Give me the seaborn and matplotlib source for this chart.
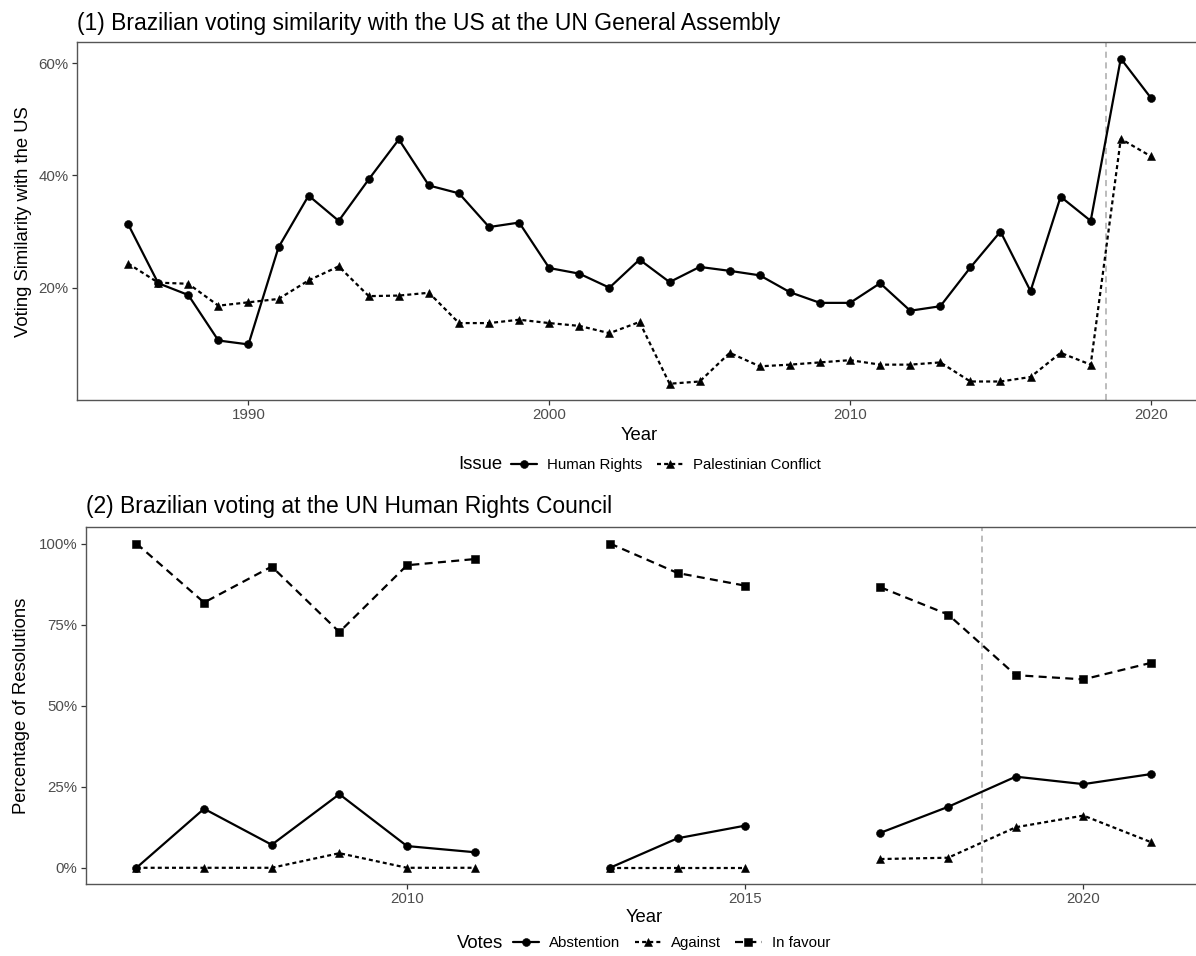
import numpy as np
import pandas as pd
import matplotlib
matplotlib.use("Agg")
import matplotlib.pyplot as plt
from matplotlib.lines import Line2D
from matplotlib.ticker import FuncFormatter
import seaborn as sns

# ---------------------------------------------------------------------------
# Data
# ---------------------------------------------------------------------------
# (1) Voting similarity with the US at the UN General Assembly (%)
ga_years = [1986, 1987, 1988, 1989, 1990, 1991, 1992, 1993, 1994, 1995,
            1996, 1997, 1998, 1999, 2000, 2001, 2002, 2003, 2004, 2005,
            2006, 2007, 2008, 2009, 2010, 2011, 2012, 2013, 2014, 2015,
            2016, 2017, 2018, 2019, 2020]
human_rights = [31.3, 20.8, 18.7, 10.6, 9.9, 27.2, 36.4, 31.9, 39.3, 46.4,
                38.2, 36.8, 30.8, 31.6, 23.5, 22.5, 20.0, 25.0, 21.0, 23.7,
                23.0, 22.2, 19.2, 17.3, 17.3, 20.8, 15.9, 16.7, 23.6, 30.0,
                19.4, 36.2, 31.9, 60.8, 53.8]
palestinian_conflict = [24.3, 20.9, 20.7, 16.8, 17.4, 18.0, 21.3, 23.8, 18.5, 18.6,
                        19.1, 13.7, 13.7, 14.3, 13.7, 13.2, 11.9, 13.9, 2.9, 3.3,
                        8.4, 6.0, 6.3, 6.7, 7.1, 6.3, 6.3, 6.7, 3.3, 3.3,
                        4.1, 8.4, 6.3, 46.5, 43.4]
issues = ["Human Rights", "Palestinian Conflict"]

# (2) Brazilian votes at the UN Human Rights Council (% of resolutions)
hrc_years = [2006, 2007, 2008, 2009, 2010, 2011, 2013, 2014, 2015,
             2017, 2018, 2019, 2020, 2021]
abstention = [0.0, 18.2, 7.1, 22.7, 6.7, 4.8, 0.0, 9.1, 13.0,
              10.8, 18.8, 28.1, 25.8, 28.9]
against = [0.0, 0.0, 0.0, 4.5, 0.0, 0.0, 0.0, 0.0, 0.0,
           2.7, 3.1, 12.5, 16.1, 7.9]
in_favour = [100.0, 81.8, 92.9, 72.7, 93.3, 95.2, 100.0, 90.9, 87.0,
             86.5, 78.1, 59.4, 58.1, 63.2]
vote_types = ["Abstention", "Against", "In favour"]

# Change of government (start of 2019)
government_change = 2018.5

ga_df = pd.DataFrame({
    "Year": ga_years * 2,
    "Similarity": human_rights + palestinian_conflict,
    "Issue": [issues[0]] * len(ga_years) + [issues[1]] * len(ga_years),
})

hrc_df = pd.DataFrame({
    "Year": hrc_years * 3,
    "Share": abstention + against + in_favour,
    "Votes": sum([[v] * len(hrc_years) for v in vote_types], []),
})
# Years without data break the lines: number the consecutive runs
hrc_df["Run"] = (hrc_df.groupby("Votes")["Year"].diff() != 1).cumsum()

# ---------------------------------------------------------------------------
# Style
# ---------------------------------------------------------------------------
sns.set_theme(style="white")
plt.rcParams["font.family"] = ["Liberation Sans", "DejaVu Sans"]

W, H, DPI = 1196, 956, 100
TICK_SIZE = 10.8
TITLE_SIZE = 16.5
AXTITLE_SIZE = 13.3
LW = 1.6
MS = 5.7
DOTTED = (1.8, 1.4)
DASHED = (3.6, 2.4)

ga_markers = {"Human Rights": "o", "Palestinian Conflict": "^"}
ga_dashes = {"Human Rights": "", "Palestinian Conflict": DOTTED}
hrc_markers = {"Abstention": "o", "Against": "^", "In favour": "s"}
hrc_dashes = {"Abstention": "", "Against": DOTTED, "In favour": DASHED}
marker_scale = {"o": 1.0, "^": 1.12, "s": 0.95}

fig = plt.figure(figsize=(W / DPI, H / DPI), dpi=DPI)
fig.patch.set_facecolor("white")


def px_box(left, top, right, bottom):
    return [left / W, 1 - bottom / H, (right - left) / W, (bottom - top) / H]


ax1 = fig.add_axes(px_box(77, 42.3, 1202, 400))
ax2 = fig.add_axes(px_box(85.7, 527.3, 1201.8, 884))


def style_axes(ax):
    for sp in ax.spines.values():
        sp.set_visible(True)
        sp.set_color("#555555")
        sp.set_linewidth(1.0)
    ax.grid(False)
    ax.set_facecolor("white")
    ax.tick_params(axis="both", which="both", direction="out", length=3.5,
                   width=0.9, color="#333333", labelcolor="#4d4d4d",
                   labelsize=TICK_SIZE, pad=2.5, bottom=True, left=True)


def expand(lo, hi, frac=0.05):
    span = hi - lo
    return lo - span * frac, hi + span * frac


def finish_lines(ax):
    for line in ax.get_lines():
        m = line.get_marker()
        if m in marker_scale:
            line.set_markersize(MS * marker_scale[m])
        line.set_dash_capstyle("butt")


pct = FuncFormatter(lambda v, _: f"{v:.0f}%")

# ---------------------------------------------------------------------------
# Panel 1
# ---------------------------------------------------------------------------
sns.lineplot(data=ga_df, x="Year", y="Similarity", style="Issue",
             style_order=issues, markers=ga_markers, dashes=ga_dashes,
             color="black", linewidth=LW, markersize=MS,
             markeredgecolor="black", markeredgewidth=0.4,
             legend=False, ax=ax1)
finish_lines(ax1)
ax1.axvline(government_change, color="#aaaaaa", linestyle=(0, (4, 3)),
            linewidth=1.1, zorder=0)
style_axes(ax1)
ax1.set_xlim(*expand(min(ga_years), max(ga_years)))
ax1.set_ylim(*expand(min(ga_df["Similarity"]), max(ga_df["Similarity"])))
ax1.set_xticks([1990, 2000, 2010, 2020])
ax1.set_yticks([20, 40, 60])
ax1.yaxis.set_major_formatter(pct)
ax1.set_title("(1) Brazilian voting similarity with the US at the UN General Assembly",
              loc="left", fontsize=TITLE_SIZE, color="black", pad=9)
ax1.set_xlabel("Year", fontsize=AXTITLE_SIZE, color="black")
ax1.set_ylabel("Voting Similarity with the US", fontsize=AXTITLE_SIZE, color="black")
ax1.xaxis.label.set_va("center")
ax1.yaxis.label.set_va("center")
ax1.xaxis.set_label_coords(0.5, -(435 - 400) / (400 - 42.3))
ax1.yaxis.set_label_coords((23 - 77) / (1202 - 77), 0.5)

# ---------------------------------------------------------------------------
# Panel 2
# ---------------------------------------------------------------------------
sns.lineplot(data=hrc_df, x="Year", y="Share", style="Votes",
             style_order=vote_types, units="Run", estimator=None,
             markers=hrc_markers, dashes=hrc_dashes,
             color="black", linewidth=LW, markersize=MS,
             markeredgecolor="black", markeredgewidth=0.4,
             legend=False, ax=ax2)
finish_lines(ax2)
ax2.axvline(government_change, color="#aaaaaa", linestyle=(0, (4, 3)),
            linewidth=1.1, zorder=0)
style_axes(ax2)
ax2.set_xlim(*expand(min(hrc_years), max(hrc_years)))
ax2.set_ylim(*expand(0, 100))
ax2.set_xticks([2010, 2015, 2020])
ax2.set_yticks([0, 25, 50, 75, 100])
ax2.yaxis.set_major_formatter(pct)
ax2.set_title("(2) Brazilian voting at the UN Human Rights Council",
              loc="left", fontsize=TITLE_SIZE, color="black", pad=10)
ax2.set_xlabel("Year", fontsize=AXTITLE_SIZE, color="black")
ax2.set_ylabel("Percentage of Resolutions", fontsize=AXTITLE_SIZE, color="black")
ax2.xaxis.label.set_va("center")
ax2.yaxis.label.set_va("center")
ax2.xaxis.set_label_coords(0.5, -(917 - 884) / (884 - 527.3))
ax2.yaxis.set_label_coords((22 - 85.7) / (1201.8 - 85.7), 0.5)

# ---------------------------------------------------------------------------
# Legends: title to the left of the keys, the whole row centred on the panel
# ---------------------------------------------------------------------------
def key(marker, dashes):
    h = Line2D([], [], color="black", linewidth=LW, marker=marker,
               markersize=MS * marker_scale[marker], markeredgecolor="black",
               markeredgewidth=0.4, dash_capstyle="butt")
    if dashes:
        h.set_dashes(dashes)
    return h


def bottom_legend(title, labels, markers, dashes, center_x, y, gap=9):
    renderer = fig.canvas.get_renderer()
    t = fig.text(0, 1 - y / H, title, fontsize=AXTITLE_SIZE,
                 ha="left", va="center", color="black")
    handles = [key(markers[l], dashes[l]) for l in labels]
    leg = fig.legend(handles, labels, loc="center left",
                     bbox_to_anchor=(0, 1 - y / H), ncol=len(labels),
                     frameon=False, fontsize=TICK_SIZE, handlelength=1.75,
                     handletextpad=0.68, columnspacing=0.95, borderpad=0,
                     borderaxespad=0, labelcolor="black")
    tw = t.get_window_extent(renderer).width
    lw = leg.get_window_extent(renderer).width
    start = center_x - (tw + gap + lw) / 2
    t.set_x(start / W)
    leg.set_bbox_to_anchor((( start + tw + gap) / W, 1 - y / H),
                           transform=fig.transFigure)


fig.canvas.draw()
bottom_legend("Issue", issues, ga_markers, ga_dashes, (77 + 1202) / 2, 465)
bottom_legend("Votes", vote_types, hrc_markers, hrc_dashes, (85.7 + 1201.8) / 2, 943)

fig.savefig("out.png", dpi=DPI, facecolor="white")
